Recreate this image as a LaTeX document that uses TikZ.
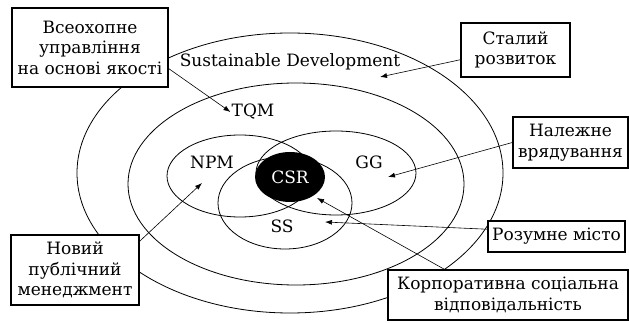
\documentclass[tikz,border=0pt]{standalone}
\usepackage{fontspec}
\setmainfont{DejaVu Serif}
\usetikzlibrary{shapes.geometric,arrows.meta}
\begin{document}
\begin{tikzpicture}[x=1pt,y=-1pt,
 ring/.style={ellipse,draw,line width=0.8pt,inner sep=0pt},
 lbl/.style={font=\fontsize{17}{20}\selectfont},
 box/.style={draw,line width=1.4pt,fill=white,align=center,inner sep=1pt,font=\fontsize{17}{20.5}\selectfont},
 arr/.style={-{Latex[length=7pt,width=5pt]},line width=0.6pt}]
\useasboundingbox (0,0) rectangle (629,323);
\node[ring,minimum width=426pt,minimum height=280pt] (sd) at (290,173) {};
\node[ring,minimum width=336pt,minimum height=202pt] (tqm) at (296,184) {};
\node[ring,minimum width=146pt,minimum height=82pt] (npm) at (240,176) {};
\node[ring,minimum width=160pt,minimum height=84pt] (gg) at (336,173) {};
\node[ring,minimum width=134pt,minimum height=92pt] (ss) at (285,203) {};
\node[ellipse,fill=black,minimum width=70pt,minimum height=50pt,inner sep=0pt,text=white,lbl] (csr) at (290,177) {CSR};
\node[lbl] (lsd) at (290,62) {Sustainable Development};
\node[lbl,inner sep=1pt] (ltqm) at (253,112) {TQM};
\node[lbl] (lnpm) at (212,162) {NPM};
\node[lbl] (lgg) at (369,162) {GG};
\node[lbl] (lss) at (282,226) {SS};
\coordinate (tSD) at (380,77);
\coordinate (tGG) at (388,177);
\coordinate (tSS) at (325,222);
\coordinate (tCSR) at (317,198);
\coordinate (tNPM) at (202,183);
\node[box,minimum width=156pt,minimum height=79pt] (b1) at (90,47.5) {Всеохопне\\управління\\на основі якості};
\node[box,minimum width=109pt,minimum height=54pt] (b2) at (515.5,50) {Сталий\\розвиток};
\node[box,minimum width=115pt,minimum height=51pt] (b3) at (570.5,142.5) {Належне\\врядування};
\node[box,minimum width=137pt,minimum height=31pt] (b4) at (556.5,236.5) {Розумне місто};
\node[box,minimum width=240pt,minimum height=50pt] (b5) at (508,295) {Корпоративна соціальна\\відповідальність};
\node[box,minimum width=128pt,minimum height=70pt] (b6) at (75,270) {Новий\\публічний\\менеджмент};
\draw[arr] (b1.-15) -- (ltqm.west);
\draw[arr] (b2.190) -- (tSD);
\draw[arr] (b3.west) -- (tGG);
\draw[arr] (b4.174) -- (tSS);
\draw[arr] (b5.158) -- (tCSR);
\draw[arr] (b6.24) -- (tNPM);
\end{tikzpicture}
\end{document}
